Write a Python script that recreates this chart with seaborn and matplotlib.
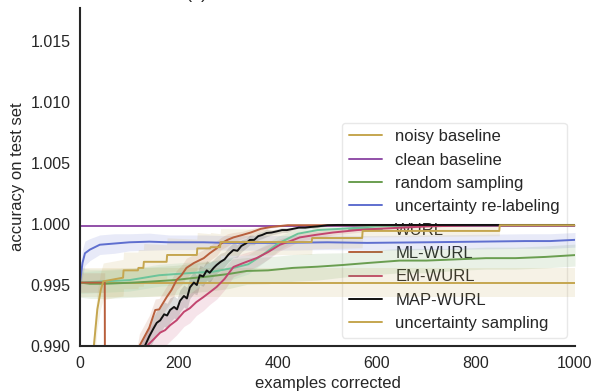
import matplotlib
matplotlib.use("Agg")
import matplotlib.pyplot as plt
import numpy as np
import pandas as pd
import seaborn as sns

# ---- data -------------------------------------------------------------
labels = ["noisy baseline", "clean baseline", "random sampling",
          "uncertainty re-labeling", "WURL", "ML-WURL", "EM-WURL",
          "MAP-WURL", "uncertainty sampling"]

noisy_x = [0, 1000]
noisy_y = [0.9952, 0.9952]
noisy_sd = [0.0012, 0.0012]

clean_x = [0, 1000]
clean_y = [0.99985, 0.99985]
clean_sd = [0.0001, 0.0001]

random_x = [0, 20, 50, 80, 110, 150, 190, 228, 260, 300, 337, 380, 430,
            480, 531, 580, 646, 700, 760, 820, 880, 940, 1000]
random_y = [0.9952, 0.9951, 0.9951, 0.99515, 0.9952, 0.9953, 0.9954,
            0.99557, 0.9957, 0.9959, 0.99615, 0.9962, 0.9964, 0.9965,
            0.99664, 0.9968, 0.9970, 0.9970, 0.9971, 0.9972, 0.9972,
            0.9973, 0.99745]
random_sd = [0.0012, 0.0012, 0.0012, 0.0012, 0.0012, 0.0012, 0.0012,
             0.0012, 0.0012, 0.0012, 0.0011, 0.0011, 0.0011, 0.0011,
             0.0010, 0.0010, 0.0010, 0.0010, 0.0009, 0.0009, 0.0009,
             0.0009, 0.0009]

relabel_x = [0, 5, 10, 20, 40, 70, 100, 140, 180, 250, 300, 400, 500,
             580, 700, 800, 900, 950, 1000]
relabel_y = [0.9952, 0.9968, 0.9976, 0.9979, 0.9983, 0.9984, 0.9985,
             0.99855, 0.9985, 0.9985, 0.99845, 0.99845, 0.9985, 0.99845,
             0.9985, 0.99855, 0.9986, 0.9986, 0.9987]
relabel_sd = [0.0012, 0.0011, 0.0010, 0.0009, 0.0008, 0.0008, 0.0007,
              0.0007, 0.0006, 0.0006, 0.0006, 0.0006, 0.0006, 0.0006,
              0.0006, 0.0006, 0.0006, 0.0006, 0.0006]

wurl_x = [0, 50, 100, 160, 230, 270, 310, 340, 370, 400, 440, 480, 525,
          600, 700, 800, 1000]
wurl_y = [0.9952, 0.9953, 0.9954, 0.9958, 0.9960, 0.9961, 0.9964, 0.9967,
          0.9975, 0.9984, 0.9992, 0.9995, 0.9996, 0.9998, 0.9999, 0.9999,
          0.9999]
wurl_sd = [0.0009, 0.0009, 0.0009, 0.0009, 0.0009, 0.0009, 0.0009,
           0.0008, 0.0007, 0.0006, 0.0004, 0.0003, 0.0002, 0.0001,
           0.00005, 0.00005, 0.00005]

ml_x = [0, 50, 51, 80, 100, 120, 140, 152, 160, 175, 185, 195, 205, 215,
        230, 250, 262, 276, 285, 298, 310, 328, 345, 365, 385, 420, 500,
        700, 1000]
ml_y = [0.9952, 0.9952, 0.9750, 0.9800, 0.9855, 0.9900, 0.9915, 0.99295,
        0.9930, 0.9940, 0.9946, 0.9954, 0.9958, 0.9964, 0.9968, 0.9972,
        0.9976, 0.9980, 0.9984, 0.9987, 0.9989, 0.9991, 0.9993, 0.9996,
        0.99975, 0.9999, 0.9999, 0.9999, 0.9999]
ml_sd = [0.0008, 0.0008, 0.0010, 0.0010, 0.0010, 0.0010, 0.0010, 0.0009,
         0.0009, 0.0009, 0.0009, 0.0008, 0.0008, 0.0008, 0.0007, 0.0007,
         0.0006, 0.0006, 0.0005, 0.0005, 0.0004, 0.0003, 0.0003, 0.0002,
         0.0001, 0.00005, 0.00005, 0.00005, 0.00005]

em_x = [100, 135, 150, 162, 172, 182, 195, 210, 222, 235, 249, 262, 276,
        292, 310, 330, 357, 380, 404, 425, 444, 475, 511, 560, 600, 650,
        700, 800, 1000]
em_y = [0.9870, 0.9900, 0.9906, 0.9911, 0.9913, 0.9917, 0.9921, 0.9928,
        0.9931, 0.9936, 0.9940, 0.9944, 0.99484, 0.9955, 0.99648, 0.9968,
        0.99721, 0.9977, 0.9983, 0.9986, 0.9989, 0.9991, 0.9993, 0.9995,
        0.9996, 0.9997, 0.9998, 0.9999, 0.9999]
em_sd = [0.0013, 0.0013, 0.0013, 0.0013, 0.0013, 0.0013, 0.0012, 0.0012,
         0.0012, 0.0011, 0.0011, 0.0010, 0.0010, 0.0009, 0.0008, 0.0008,
         0.0007, 0.0006, 0.0005, 0.0004, 0.0003, 0.0003, 0.0002, 0.0002,
         0.0001, 0.0001, 0.00005, 0.00005, 0.00005]

map_x = [110, 125, 131, 140, 148, 155, 162, 170, 176, 182, 190, 196, 202,
         210, 216, 222, 230, 236, 242, 249, 256, 262, 270, 276, 284, 292,
         300, 310, 318, 326, 335, 343, 352, 360, 368, 377, 387, 398, 408,
         418, 430, 442, 455, 465, 480, 500, 520, 560, 600, 700, 800, 900,
         1000]
map_y = [0.9880, 0.9893, 0.9900, 0.9908, 0.9914, 0.9919, 0.9921, 0.9926,
         0.9925, 0.99295, 0.9932, 0.9930, 0.9937, 0.9941, 0.9939, 0.9948,
         0.9952, 0.9950, 0.9958, 0.9957, 0.9962, 0.9960, 0.9964, 0.99664,
         0.9969, 0.9971, 0.9975, 0.99787, 0.9978, 0.9982, 0.9984, 0.99869,
         0.9987, 0.9990, 0.9991, 0.99926, 0.9993, 0.9994, 0.9995, 0.9995,
         0.9996, 0.9997, 0.9997, 0.99975, 0.9998, 0.9999, 0.99992,
         0.99992, 0.99992, 0.99992, 0.99992, 0.99992, 0.99992]
map_sd = [0.0010, 0.0010, 0.0010, 0.0010, 0.0010, 0.0010, 0.0010, 0.0010,
          0.0010, 0.0010, 0.0009, 0.0009, 0.0009, 0.0009, 0.0009, 0.0009,
          0.0009, 0.0008, 0.0008, 0.0008, 0.0008, 0.0008, 0.0007, 0.0007,
          0.0007, 0.0006, 0.0006, 0.0006, 0.0005, 0.0005, 0.0004, 0.0004,
          0.0004, 0.0003, 0.0003, 0.0003, 0.0002, 0.0002, 0.0002, 0.0002,
          0.0001, 0.0001, 0.0001, 0.0001, 0.0001, 0.00005, 0.00005,
          0.00005, 0.00005, 0.00005, 0.00005, 0.00005, 0.00005]

unc_x = [0, 20, 28, 35, 42, 47, 87, 88, 117, 118, 128, 129, 175, 176, 236,
         237, 263, 264, 283, 284, 468, 469, 570, 571, 847, 848, 1000]
unc_y = [0.9750, 0.9850, 0.9900, 0.9930, 0.9946, 0.9953, 0.9956, 0.9962,
         0.9962, 0.9964, 0.9964, 0.9969, 0.9969, 0.99746, 0.99746, 0.9980,
         0.9980, 0.9981, 0.9981, 0.99852, 0.99852, 0.99885, 0.99885,
         0.99943, 0.99943, 0.9999, 0.9999]
unc_sd = [0.0015, 0.0015, 0.0015, 0.0015, 0.0015, 0.0015, 0.0015, 0.0015,
          0.0015, 0.0015, 0.0015, 0.0015, 0.0014, 0.0014, 0.0013, 0.0013,
          0.0012, 0.0012, 0.0011, 0.0011, 0.0010, 0.0009, 0.0008, 0.0005,
          0.0004, 0.0001, 0.0001]

series = [
    (noisy_x, noisy_y, noisy_sd),
    (clean_x, clean_y, clean_sd),
    (random_x, random_y, random_sd),
    (relabel_x, relabel_y, relabel_sd),
    (wurl_x, wurl_y, wurl_sd),
    (ml_x, ml_y, ml_sd),
    (em_x, em_y, em_sd),
    (map_x, map_y, map_sd),
    (unc_x, unc_y, unc_sd),
]

# eight-colour cycle: the ninth method wraps round to the first colour
colors = ["#c5a64f", "#9250a8", "#6a9e50", "#5f6fcf", "#6cc49a",
          "#b85f3c", "#c2456f", "#111111", "#c5a64f"]
palette = dict(zip(labels, colors))

frames = []
for name, (xs, ys, sds) in zip(labels, series):
    frames.append(pd.DataFrame({"examples": xs, "acc": ys, "sd": sds,
                                "method": name}))
df = pd.concat(frames, ignore_index=True)

# ---- figure -----------------------------------------------------------
sns.set_style("white")
plt.rcParams["font.family"] = ["Liberation Sans", "DejaVu Sans"]

fig = plt.figure(figsize=(5.95, 3.91), dpi=100)
ax = fig.add_axes([80 / 595, 45 / 391, 495 / 595, 338 / 391])

for name in labels:
    sub = df[df["method"] == name]
    ax.fill_between(sub["examples"], sub["acc"] - sub["sd"],
                    sub["acc"] + sub["sd"], color=palette[name], alpha=0.14,
                    linewidth=0, zorder=1)

sns.lineplot(data=df, x="examples", y="acc", hue="method",
             hue_order=labels, palette=palette,
             estimator=None, sort=False, linewidth=1.4, ax=ax, zorder=2)

ax.set_xlim(0, 1000)
ax.set_ylim(0.990, 1.0177)
ax.set_xticks([0, 200, 400, 600, 800, 1000])
ax.set_yticks([0.990, 0.995, 1.000, 1.005, 1.010, 1.015])
ax.set_yticklabels(["0.990", "0.995", "1.000", "1.005", "1.010", "1.015"])
ax.tick_params(labelsize=11.5, colors="#262626", length=0, pad=7)
ax.set_xlabel("examples corrected", fontsize=12, color="#262626",
              labelpad=4)
ax.set_ylabel("accuracy on test set", fontsize=12, color="#262626")
sns.despine(ax=ax)
for s in ("left", "bottom"):
    ax.spines[s].set_color("#262626")
    ax.spines[s].set_linewidth(1.5)

handles, labs = ax.get_legend_handles_labels()
leg = ax.legend(handles, labs, loc="lower right", fontsize=12,
                frameon=True, framealpha=0.9, edgecolor="#e6e6e6",
                borderaxespad=0.5, labelspacing=0.5, handlelength=2.0)
leg.set_zorder(0.5)

fig.text(197 / 595, 1 + 2 / 391, "(a)", ha="center", va="baseline",
         fontsize=13, color="#262626")

fig.savefig("out.png", dpi=100)
